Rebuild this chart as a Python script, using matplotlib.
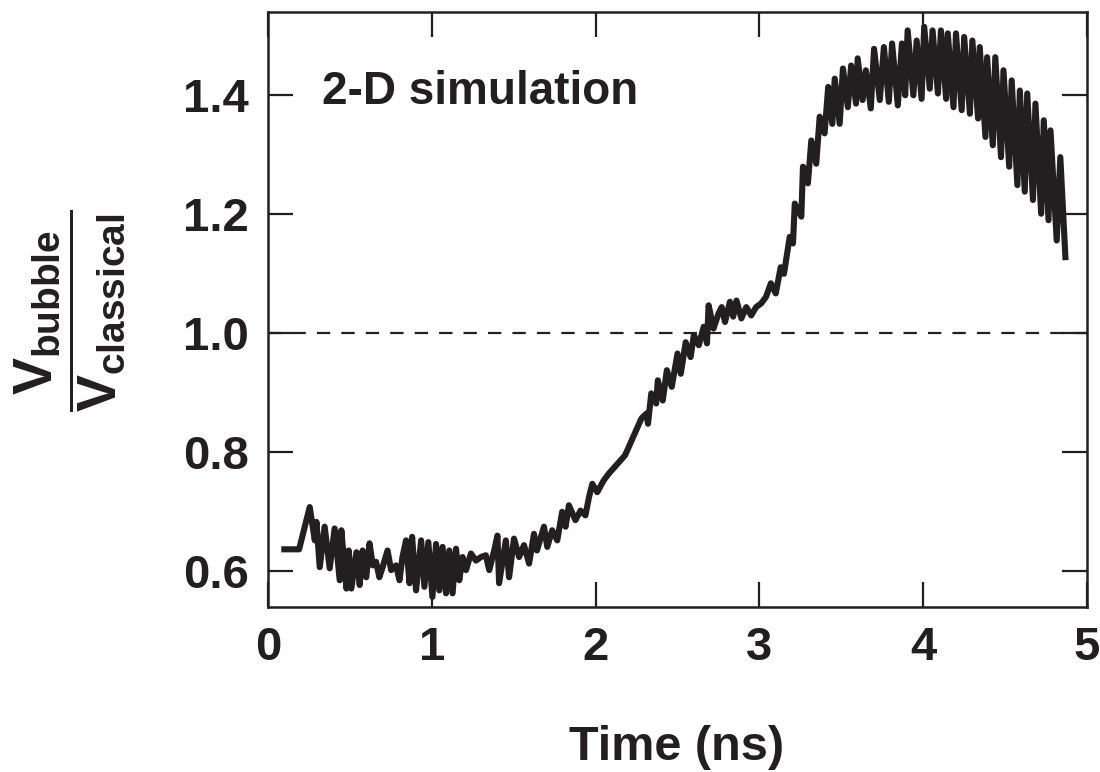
import matplotlib
matplotlib.use("Agg")
import matplotlib.pyplot as plt

# values (time in ns, velocity ratio)
time_ns = [
    0.10, 0.19, 0.255, 0.286, 0.296, 0.316, 0.346, 0.377, 0.407, 0.438,
    0.448, 0.479, 0.493, 0.509, 0.540, 0.560, 0.578, 0.600, 0.620, 0.640,
    0.660, 0.680, 0.700, 0.730, 0.752, 0.782, 0.803, 0.821, 0.843, 0.864,
    0.880, 0.904, 0.935, 0.955, 0.979, 1.004, 1.026, 1.046, 1.066, 1.087,
    1.107, 1.127, 1.148, 1.168, 1.188, 1.209, 1.239, 1.270, 1.300, 1.330,
    1.351, 1.381, 1.401, 1.411, 1.452, 1.472, 1.502, 1.533, 1.563, 1.594,
    1.624, 1.642, 1.685, 1.705, 1.735, 1.766, 1.796, 1.817, 1.837, 1.877,
    1.908, 1.938, 1.960, 1.980, 2.010, 2.050, 2.080, 2.180, 2.230, 2.280,
    2.310, 2.320, 2.340, 2.370, 2.380, 2.410, 2.435, 2.465, 2.500, 2.520,
    2.550, 2.580, 2.600, 2.630, 2.660, 2.680, 2.690, 2.720, 2.750, 2.770,
    2.790, 2.820, 2.840, 2.860, 2.890, 2.920, 2.950, 2.980, 3.010, 3.040,
    3.070, 3.100, 3.130, 3.150, 3.185, 3.205, 3.216, 3.256, 3.266, 3.296,
    3.317, 3.347, 3.368, 3.398, 3.420, 3.445, 3.460, 3.490, 3.510, 3.540,
    3.560, 3.590, 3.600, 3.630, 3.650, 3.680, 3.700, 3.735, 3.760, 3.790,
    3.810, 3.845, 3.870, 3.890, 3.905, 3.940, 3.960, 3.990, 4.006, 4.040,
    4.057, 4.090, 4.108, 4.140, 4.150, 4.185, 4.200, 4.235, 4.250, 4.285,
    4.300, 4.335, 4.345, 4.380, 4.390, 4.425, 4.440, 4.475, 4.490, 4.525,
    4.540, 4.575, 4.590, 4.620, 4.635, 4.670, 4.685, 4.720, 4.736, 4.765,
    4.777, 4.815, 4.837, 4.868,
]
ratio = [
    0.637, 0.637, 0.708, 0.652, 0.683, 0.607, 0.675, 0.605, 0.672, 0.585,
    0.669, 0.571, 0.635, 0.571, 0.632, 0.577, 0.635, 0.590, 0.647, 0.610,
    0.616, 0.590, 0.607, 0.635, 0.602, 0.610, 0.585, 0.624, 0.652, 0.580,
    0.658, 0.568, 0.652, 0.574, 0.649, 0.557, 0.646, 0.568, 0.641, 0.563,
    0.635, 0.563, 0.638, 0.585, 0.624, 0.602, 0.630, 0.618, 0.624, 0.627,
    0.602, 0.635, 0.660, 0.580, 0.652, 0.590, 0.655, 0.624, 0.644, 0.613,
    0.663, 0.635, 0.675, 0.641, 0.669, 0.652, 0.700, 0.675, 0.711, 0.686,
    0.702, 0.694, 0.725, 0.747, 0.733, 0.753, 0.764, 0.795, 0.826, 0.857,
    0.865, 0.848, 0.899, 0.882, 0.921, 0.887, 0.938, 0.910, 0.966, 0.932,
    0.985, 0.960, 0.997, 0.980, 1.011, 0.983, 1.047, 1.008, 1.033, 1.044,
    1.019, 1.053, 1.028, 1.055, 1.025, 1.044, 1.030, 1.044, 1.050, 1.061,
    1.084, 1.067, 1.111, 1.100, 1.162, 1.151, 1.218, 1.196, 1.280, 1.252,
    1.324, 1.285, 1.364, 1.336, 1.414, 1.352, 1.428, 1.352, 1.445, 1.380,
    1.450, 1.386, 1.462, 1.392, 1.442, 1.378, 1.478, 1.392, 1.481, 1.389,
    1.487, 1.383, 1.487, 1.400, 1.509, 1.400, 1.492, 1.394, 1.515, 1.411,
    1.509, 1.403, 1.509, 1.394, 1.504, 1.380, 1.504, 1.375, 1.498, 1.369,
    1.492, 1.361, 1.481, 1.330, 1.464, 1.316, 1.464, 1.296, 1.442, 1.280,
    1.425, 1.249, 1.408, 1.238, 1.403, 1.224, 1.386, 1.201, 1.358, 1.190,
    1.341, 1.156, 1.296, 1.128,
]
x_ticks = [0, 1, 2, 3, 4, 5]
y_ticks = [0.6, 0.8, 1.0, 1.2, 1.4]

ink = "#231f20"
plt.rcParams["font.family"] = ["Liberation Sans", "DejaVu Sans"]
plt.rcParams["font.weight"] = "bold"
plt.rcParams["mathtext.fontset"] = "custom"
plt.rcParams["mathtext.rm"] = "Liberation Sans:bold"
plt.rcParams["mathtext.it"] = "Liberation Sans:bold"
plt.rcParams["mathtext.bf"] = "Liberation Sans:bold"

fig = plt.figure(figsize=(11, 7.72), dpi=100)
ax = fig.add_axes([0.2436, 0.2137, 0.7446, 0.7708])

ax.plot(time_ns, ratio, color=ink, lw=4.4, solid_joinstyle="round")
ax.axhline(1.0, color=ink, lw=1.6, dashes=(6, 5))

ax.set_xlim(0, 4.98)
ax.set_ylim(0.54, 1.54)
ax.set_xticks(x_ticks)
ax.set_yticks(y_ticks)
ax.set_xticklabels([str(t) for t in x_ticks])
ax.set_yticklabels([f"{t:.1f}" for t in y_ticks])
ax.tick_params(direction="in", length=18, width=1.6, top=True, right=True,
               labelsize=34, pad=14, colors=ink)
for s in ax.spines.values():
    s.set_linewidth(1.8)
    s.set_color(ink)

ax.text(0.33, 1.385, "2-D simulation", fontsize=33, fontweight="bold",
        color=ink, ha="left", va="baseline")

fig.text(0.615, 1 - 760 / 772, "Time (ns)", fontsize=35, fontweight="bold",
         color=ink, ha="center", va="baseline")
fig.text(0.063, 0.598, r"$\dfrac{V_{bubble}}{V_{classical}}$", fontsize=40,
         color=ink, rotation=90, ha="center", va="center")

fig.savefig("out.png", dpi=100)
